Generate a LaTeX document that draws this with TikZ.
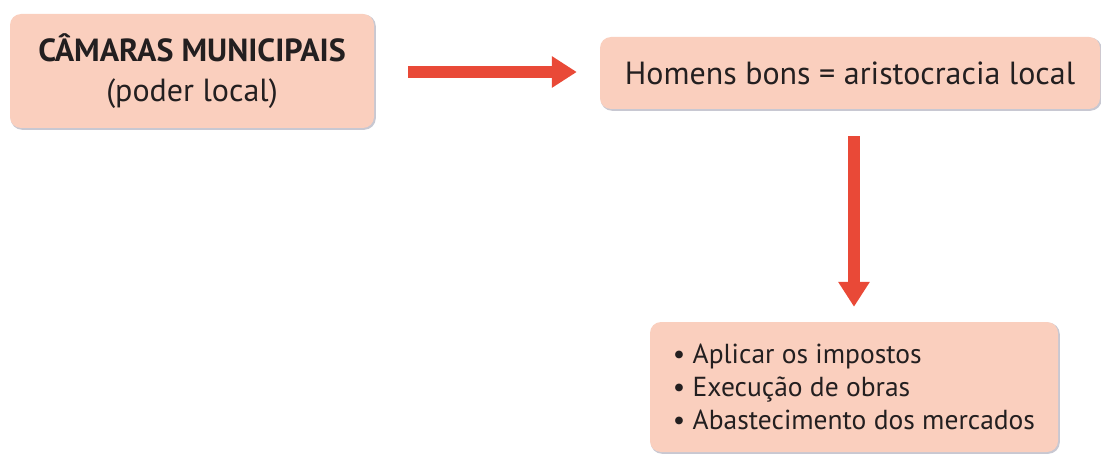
\documentclass[tikz,border=0pt]{standalone}
\usepackage{fontspec}
\setmainfont{PT Sans}
\usetikzlibrary{arrows.meta}
\definecolor{boxfill}{RGB}{250,207,190}
\definecolor{arrowred}{RGB}{233,73,55}
\definecolor{txt}{RGB}{35,31,32}
\definecolor{shade}{RGB}{200,200,210}
\tikzset{
  box/.style={rounded corners=11pt, fill=boxfill, text=txt, inner sep=0pt, align=center,
    preaction={draw=shade, line width=1.2pt, fill=shade, transform canvas={shift={(1.2pt,-1.2pt)}}}},
  bigarrow/.style={draw=arrowred, line width=12pt, -{Triangle[width=30pt,length=25pt]}}
}
\begin{document}
\begin{tikzpicture}[x=1pt,y=1pt]
\useasboundingbox (0,0) rectangle (1101,456);
\node[box, minimum width=364pt, minimum height=114pt, font=\fontsize{32}{40}\selectfont] (b1) at (192,385)
  {\textbf{CÂMARAS MUNICIPAIS}\\(poder local)};
\node[box, minimum width=500pt, minimum height=72pt, font=\fontsize{32}{38}\selectfont] (b2) at (850,383)
  {Homens bons = aristocracia local};
\node[box, minimum width=408pt, minimum height=130pt, font=\fontsize{27.5}{33}\selectfont, align=left] (b3) at (854,69)
  {\textbullet\ Aplicar os impostos\\\textbullet\ Execução de obras\\\textbullet\ Abastecimento dos mercados};
\draw[bigarrow, shorten <=34pt, shorten >=23pt] (b1.east |- 0,384) -- (b2.west |- 0,384);
\draw[bigarrow, shorten <=27pt, shorten >=15pt] (b3.north |- b2.south) -- (b3.north);
\end{tikzpicture}
\end{document}
